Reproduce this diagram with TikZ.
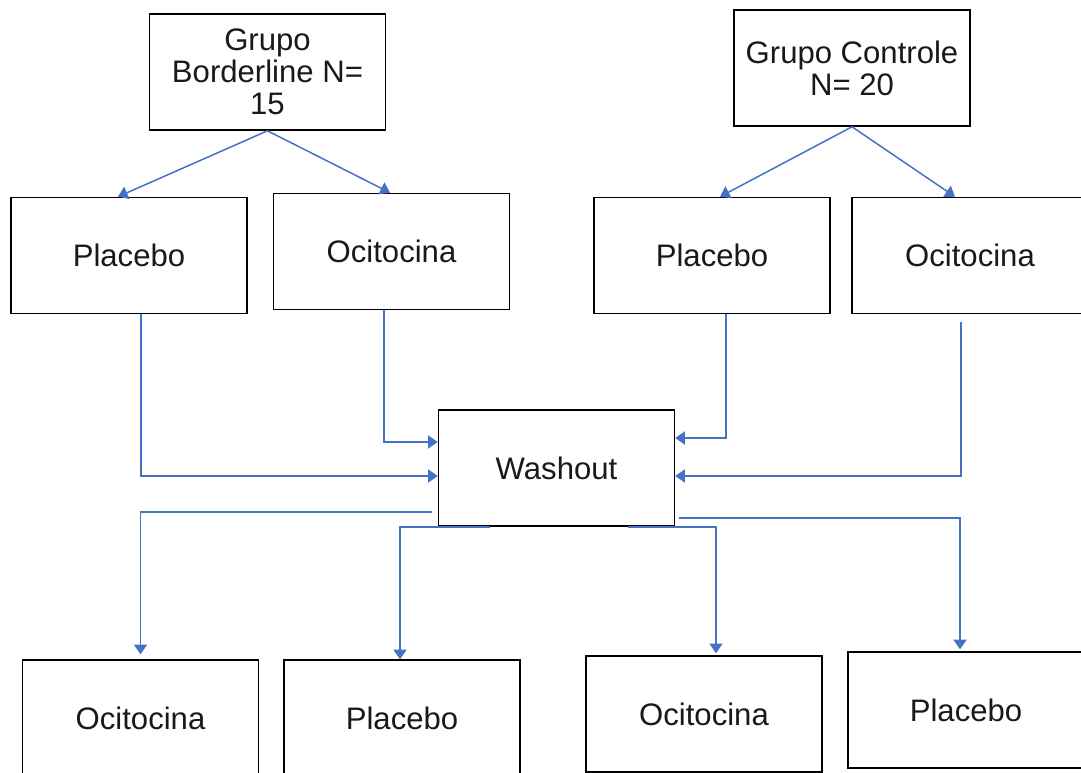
\documentclass[tikz,border=0pt]{standalone}
\usepackage{fontspec}
\setmainfont{Liberation Sans}
\usetikzlibrary{arrows.meta}
\definecolor{linkblue}{RGB}{68,114,196}
\tikzset{
  arr/.style={draw=linkblue,line width=0.85pt,-{Triangle[length=5.5pt,width=7.5pt]}}
}
\begin{document}
\begin{tikzpicture}[x=0.02cm,y=-0.02cm,
    every node/.style={rectangle,draw,line width=0.9pt,minimum width=4.72cm,minimum height=2.32cm,
      align=center,inner sep=2pt,font=\fontsize{17.7}{18.1}\selectfont,text=black!90}]
  \clip (0,0) rectangle (1081,772);
  % Groups
  \node (gb) at (267.5,72) {Grupo\\Borderline N=\\15};
  \node (gc) at (852,68) {Grupo Controle\\N= 20};
  % First treatment
  \node (pl1) at (129,255.5) {Placebo};
  \node (oc1) at (391.5,251.5) {Ocitocina};
  \node (pl2) at (712,255.5) {Placebo};
  \node (oc2) at (970,255.5) {Ocitocina};
  % Washout
  \node (wash) at (556.5,468) {Washout};
  % Second treatment
  \node (boc1) at (140.5,718) {Ocitocina};
  \node (bpl1) at (402,718) {Placebo};
  \node (boc2) at (704,714) {Ocitocina};
  \node (bpl2) at (966,710) {Placebo};
  % Group split
  \draw[arr] (gb.south) -- ([xshift=-0.22cm]pl1.north);
  \draw[arr] (gb.south) -- ([xshift=-0.03cm]oc1.north);
  \draw[arr] (gc.south) -- ([xshift=0.16cm]pl2.north);
  \draw[arr] (gc.south) -- ([xshift=-0.3cm]oc2.north);
  % Into washout
  \draw[arr] ([xshift=0.24cm]pl1.south) |- ([yshift=-0.16cm]wash.west);
  \draw[arr] ([xshift=-0.15cm]oc1.south) |- ([yshift=0.52cm]wash.west);
  \draw[arr] ([xshift=0.28cm]pl2.south) |- ([yshift=0.6cm]wash.east);
  \draw[arr] ([xshift=-0.18cm,yshift=-0.16cm]oc2.south) |- ([yshift=-0.16cm]wash.east);
  % Out of washout
  \draw[arr] ([xshift=-0.12cm,yshift=-0.88cm]wash.west) -| ([yshift=0.1cm]boc1.north);
  \draw[arr] ([xshift=-1.33cm]wash.south) -| ([xshift=-0.04cm]bpl1.north);
  \draw[arr] ([xshift=1.43cm]wash.south) -| ([xshift=0.24cm,yshift=0.04cm]boc2.north);
  \draw[arr] ([xshift=0.08cm,yshift=-1cm]wash.east) -| ([xshift=-0.12cm,yshift=0.04cm]bpl2.north);
\end{tikzpicture}
\end{document}
